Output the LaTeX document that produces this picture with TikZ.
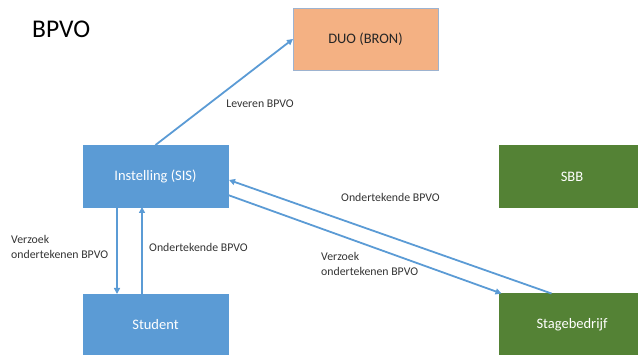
\documentclass[tikz,border=0pt]{standalone}
\usepackage{fontspec}
\setmainfont{Carlito}
\usetikzlibrary{arrows.meta,calc}
\definecolor{boxblue}{HTML}{5B9BD5}
\definecolor{boxgreen}{HTML}{548235}
\definecolor{boxsalmon}{HTML}{F4B183}
\definecolor{duoborder}{HTML}{9DB3D0}
\definecolor{arrowblue}{HTML}{5B9BD5}
\tikzset{
  box/.style={rectangle, minimum width=145pt, minimum height=62pt, inner sep=0pt, outer sep=0pt, font=\fontsize{14.5}{17}\selectfont},
  bluebox/.style={box, fill=boxblue, draw=boxblue, text=white},
  greenbox/.style={box, fill=boxgreen, draw=boxgreen, text=white},
  duobox/.style={box, fill=boxsalmon, draw=duoborder, line width=0.8pt, text=black!85},
  arr/.style={draw=arrowblue, line width=1.8pt, -{Triangle[length=6pt,width=6pt]}},
  lbl/.style={font=\fontsize{11.8}{15}\selectfont, text=black!80, inner sep=0pt, align=left},
}
\begin{document}
\begin{tikzpicture}[x=1pt,y=-1pt]
\useasboundingbox (0,0) rectangle (638,355);
\clip (0,0) rectangle (638,355);
\node[anchor=west, inner sep=0pt, font=\fontsize{25.5}{30}\selectfont, text=black] (title) at (32,29) {BPVO};
\node[duobox] (duo) at (365.5,39) {DUO (BRON)};
\node[bluebox] (inst) at (155.5,176) {Instelling (SIS)};
\node[greenbox] (sbb) at (572,176.5) {SBB};
\node[bluebox] (stud) at (155.5,325) {Student};
\node[greenbox] (stage) at (572,324.5) {Stagebedrijf};
% arrows
\draw[arr] (inst.north) -- (duo.west);
\draw[arr] ($(inst.south west)+(34,0)$) -- ($(stud.north west)+(34,0)$);
\draw[arr] ($(stud.north west)+(59,0)$) -- ($(inst.south west)+(59,0)$);
\draw[arr] ($(inst.east)+(0,19)$) -- ($(stage.north west)+(2,0)$);
\draw[arr] ($(stage.north west)+(52,0)$) -- ($(inst.east)+(1,4)$);
% labels
\node[lbl, anchor=center] (l1) at (260,104) {Leveren BPVO};
\node[lbl, anchor=north west] (l2) at (11,235) {Verzoek\\ondertekenen BPVO};
\node[lbl, anchor=west] (l3) at (149,247) {Ondertekende BPVO};
\node[lbl, anchor=west] (l4) at (341,197) {Ondertekende BPVO};
\node[lbl, anchor=north west] (l5) at (321,252) {Verzoek\\ondertekenen BPVO};
\end{tikzpicture}
\end{document}
